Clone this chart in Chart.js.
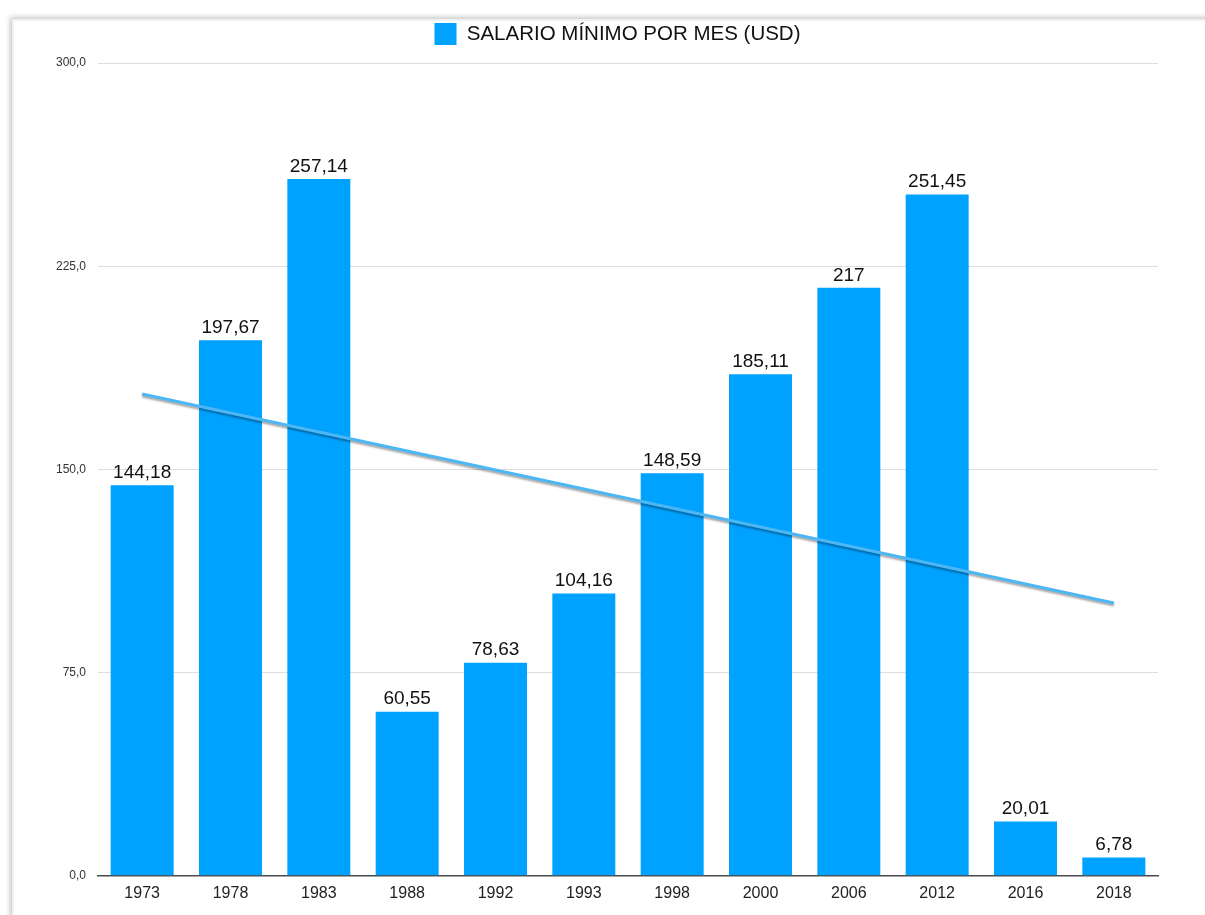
<!DOCTYPE html>
<html>
<head>
<meta charset="utf-8">
<script src="https://cdn.jsdelivr.net/npm/chart.js@4.4.1/dist/chart.umd.min.js"></script>
<style>
  html, body { margin: 0; padding: 0; background: #ffffff; }
  #card { position: absolute; left: 12px; top: 19px; width: 1210px; height: 920px;
          background: #fff; border-top: 2px solid #eef2f2; border-left: 2px solid #eef2f2;
          box-shadow: -2px -2px 5px rgba(0,0,0,0.22); }
  #wrap { position: absolute; left: 0; top: 0; width: 1205px; height: 915px; }
</style>
</head>
<body>
<div id="card"></div>
<div id="wrap"><canvas id="c" width="1205" height="915"></canvas></div>
<script>
const categories = ["1973","1978","1983","1988","1992","1993","1998","2000","2006","2012","2016","2018"];
const salario = [144.18, 197.67, 257.14, 60.55, 78.63, 104.16, 148.59, 185.11, 217, 251.45, 20.01, 6.78];
// trend line endpoints
const tendencia = [177.8, null, null, null, null, null, null, null, null, null, null, 100.7];
const yTicks = [0, 75, 150, 225, 300];
const seriesLabel = "SALARIO MÍNIMO POR MES (USD)";

const FONT = '"Liberation Sans", Arial, sans-serif';
const fmt = v => String(v).replace('.', ',');

const labelPlugin = {
  id: 'barLabels',
  afterInit(chart) {
    const lg = chart.legend;
    if (lg) {
      const orig = lg.fit;
      lg.fit = function () { orig.call(this); this.height += 8; };
    }
  },
  afterLayout(chart) {
    const lg = chart.legend;
    if (lg) { lg.left += 18; lg.right += 18; }
  },
  afterDatasetDraw(chart, args) {
    if (args.index === 0) {
      const ctx = chart.ctx;
      ctx.save();
      ctx.font = '19px ' + FONT;
      ctx.fillStyle = '#111';
      ctx.textAlign = 'center';
      ctx.textBaseline = 'bottom';
      args.meta.data.forEach((bar, i) => {
        ctx.fillText(fmt(salario[i]), bar.x, bar.y - 3);
      });
      ctx.restore();
    } else if (args.index === 1) {
      chart.ctx.restore();
    }
  },
  beforeDatasetDraw(chart, args) {
    if (args.index !== 1) return;
    const ctx = chart.ctx;
    ctx.save();
    ctx.shadowColor = 'rgba(0,0,0,0.35)';
    ctx.shadowOffsetX = 0;
    ctx.shadowOffsetY = 2;
    ctx.shadowBlur = 2;
  },
};

new Chart(document.getElementById('c'), {
  data: {
    labels: categories,
    datasets: [
      {
        type: 'bar',
        label: seriesLabel,
        data: salario,
        backgroundColor: '#00A2FF',
        borderWidth: 0,
        barPercentage: 0.713,
        categoryPercentage: 1.0,
        order: 2
      },
      {
        type: 'line',
        label: 'tendencia',
        data: tendencia,
        borderColor: '#4DB6F4',
        borderWidth: 3,
        pointRadius: 0,
        spanGaps: true,
        fill: false,
        order: 1
      }
    ]
  },
  options: {
    responsive: false,
    animation: false,
    layout: { padding: { top: 13, left: 41, right: 47, bottom: 4 } },
    plugins: {
      tooltip: { enabled: false },
      legend: {
        display: true,
        position: 'top',
        labels: {
          filter: item => item.datasetIndex === 0,
          boxWidth: 22,
          boxHeight: 22,
          padding: 10,
          color: '#111',
          font: { family: FONT, size: 20.5 }
        }
      }
    },
    scales: {
      x: {
        grid: { display: false, drawTicks: false },
        border: { display: true, color: '#4a4a4a', width: 1.5 },
        ticks: {
          color: '#222',
          padding: 8,
          font: { family: FONT, size: 16 }
        }
      },
      y: {
        min: 0,
        max: 300,
        afterFit(scale) { scale.width = 57; },
        afterBuildTicks(scale) { scale.ticks = yTicks.map(v => ({ value: v })); },
        grid: { color: '#dedede', lineWidth: 1, drawTicks: false },
        border: { display: false },
        ticks: {
          padding: 12,
          color: '#333',
          font: { family: FONT, size: 12 },
          callback: v => v.toFixed(1).replace('.', ',')
        }
      }
    }
  },
  plugins: [labelPlugin]
});
</script>
</body>
</html>
